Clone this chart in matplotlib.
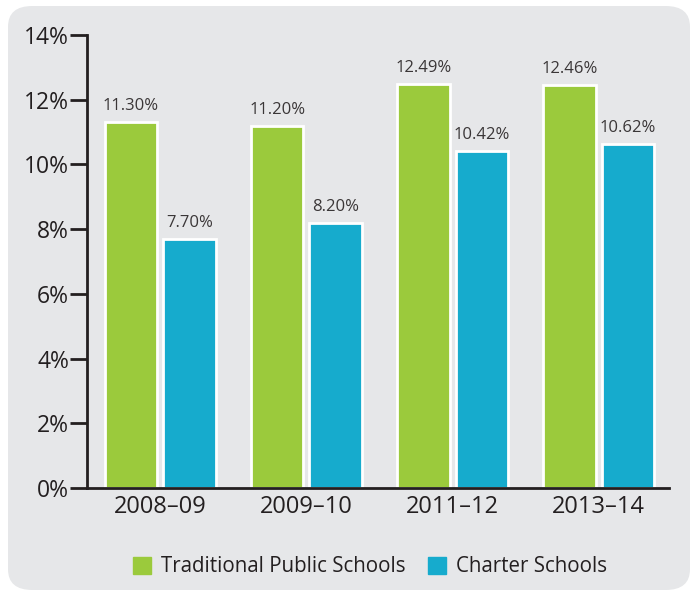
import matplotlib
matplotlib.use("Agg")
import numpy as np
import matplotlib.pyplot as plt
from matplotlib.patches import FancyBboxPatch, Patch

years = ["2008–09", "2009–10", "2011–12", "2013–14"]
traditional = [11.30, 11.20, 12.49, 12.46]
charter = [7.70, 8.20, 10.42, 10.62]
yticks = [0, 2, 4, 6, 8, 10, 12, 14]

green = "#9bca3c"
blue = "#16abcd"
bg = "#e6e7e9"
ink = "#231f20"

plt.rcParams["font.family"] = ["Open Sans", "DejaVu Sans"]

fig = plt.figure(figsize=(6.96, 5.92), dpi=100)
fig.patch.set_facecolor("white")

# rounded grey card behind everything
card = FancyBboxPatch((8 / 696, 2 / 592), 682 / 696, 584 / 592,
                      boxstyle="round,pad=0,rounding_size=0.035",
                      transform=fig.transFigure, facecolor=bg,
                      edgecolor="none", zorder=-10)
fig.patches.append(card)

ax = fig.add_axes([87 / 696, 1 - 488 / 592, (669 - 87) / 696, (488 - 35) / 592])
ax.set_facecolor("none")

x = np.arange(len(years))
w = 0.36
b1 = ax.bar(x - 0.2, traditional, w, color=green, edgecolor="white", linewidth=2)
b2 = ax.bar(x + 0.2, charter, w, color=blue, edgecolor="white", linewidth=2)

for bars, vals in ((b1, traditional), (b2, charter)):
    for r, v in zip(bars, vals):
        ax.text(r.get_x() + r.get_width() / 2, v + 0.25, f"{v:.2f}%",
                ha="center", va="bottom", fontsize=12, color="#3a3637")

ax.set_xlim(-0.5, 3.48)
ax.set_ylim(0, 14)
ax.set_yticks(yticks)
ax.set_yticklabels([f"{t}%" for t in yticks], fontsize=16.5, color=ink)
ax.set_xticks(x)
ax.set_xticklabels(years, fontsize=17, color=ink)

for s in ("top", "right"):
    ax.spines[s].set_visible(False)
for s in ("left", "bottom"):
    ax.spines[s].set_linewidth(2)
    ax.spines[s].set_color(ink)
ax.tick_params(axis="y", length=12, width=2, color=ink, pad=1)
ax.tick_params(axis="x", length=0, pad=5)

handles = [Patch(color=green, label="Traditional Public Schools"),
           Patch(color=blue, label="Charter Schools")]
fig.legend(handles=handles, loc="center", bbox_to_anchor=(370 / 696, 1 - 567 / 592),
           ncol=2, frameon=False, handlelength=0.85, handleheight=0.85,
           columnspacing=1.1, handletextpad=0.5, labelcolor=ink,
           prop={"size": 14.8})

fig.savefig("out.png", dpi=100)
